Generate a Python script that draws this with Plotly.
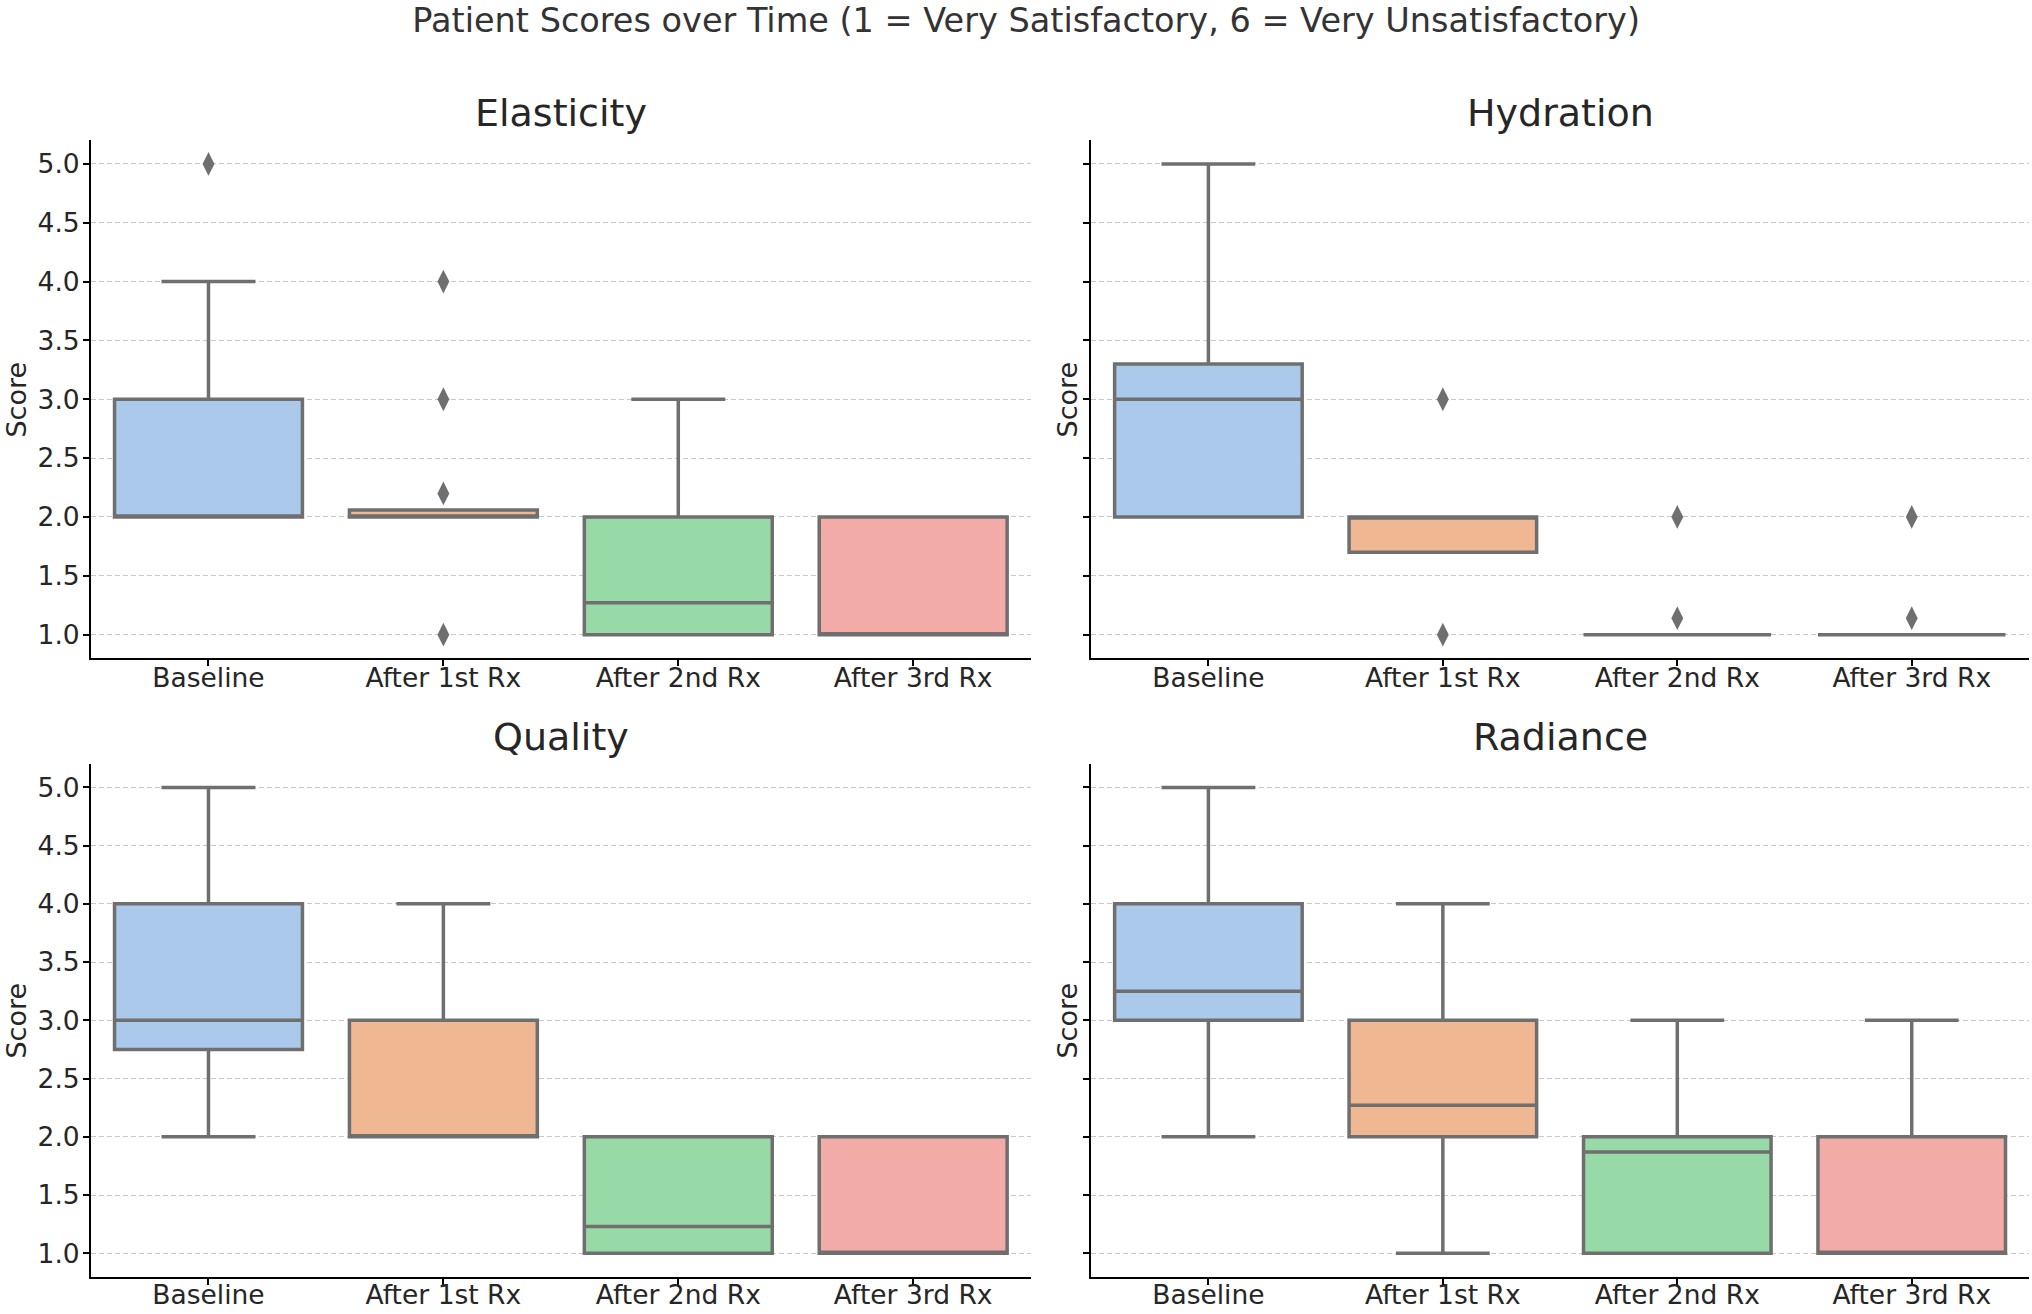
"""Box plots of patient scores for four skin metrics over the treatment course."""

import plotly.graph_objects as go

CATEGORIES = ["Baseline", "After 1st Rx", "After 2nd Rx", "After 3rd Rx"]
METRICS = ["Elasticity", "Hydration", "Quality", "Radiance"]
BOX_COLORS = ["#abc9ea", "#efb792", "#98daa7", "#f3aba8"]

# box statistics per metric: one value per category
elasticity_q1 = [2.0, 2.0, 1.0, 1.0]
elasticity_median = [2.0, 2.0, 1.27, 1.0]
elasticity_q3 = [3.0, 2.06, 2.0, 2.0]
elasticity_low = [2.0, 2.0, 1.0, 1.0]
elasticity_high = [4.0, 2.06, 3.0, 2.0]
elasticity_outlier_cat = ["Baseline", "After 1st Rx", "After 1st Rx", "After 1st Rx", "After 1st Rx"]
elasticity_outlier_val = [5.0, 4.0, 3.0, 2.2, 1.0]

hydration_q1 = [2.0, 1.7, 1.0, 1.0]
hydration_median = [3.0, 2.0, 1.0, 1.0]
hydration_q3 = [3.3, 2.0, 1.0, 1.0]
hydration_low = [2.0, 1.7, 1.0, 1.0]
hydration_high = [5.0, 2.0, 1.0, 1.0]
hydration_outlier_cat = ["After 1st Rx", "After 1st Rx", "After 2nd Rx", "After 2nd Rx",
                         "After 3rd Rx", "After 3rd Rx"]
hydration_outlier_val = [3.0, 1.0, 2.0, 1.14, 2.0, 1.14]

quality_q1 = [2.75, 2.0, 1.0, 1.0]
quality_median = [3.0, 2.0, 1.23, 1.0]
quality_q3 = [4.0, 3.0, 2.0, 2.0]
quality_low = [2.0, 2.0, 1.0, 1.0]
quality_high = [5.0, 4.0, 2.0, 2.0]
quality_outlier_cat = []
quality_outlier_val = []

radiance_q1 = [3.0, 2.0, 1.0, 1.0]
radiance_median = [3.25, 2.27, 1.87, 1.0]
radiance_q3 = [4.0, 3.0, 2.0, 2.0]
radiance_low = [2.0, 1.0, 1.0, 1.0]
radiance_high = [5.0, 4.0, 3.0, 3.0]
radiance_outlier_cat = []
radiance_outlier_val = []

Y_TICKS = [1.0, 1.5, 2.0, 2.5, 3.0, 3.5, 4.0, 4.5, 5.0]

stats = {
    "Elasticity": (elasticity_q1, elasticity_median, elasticity_q3, elasticity_low,
                   elasticity_high, elasticity_outlier_cat, elasticity_outlier_val),
    "Hydration": (hydration_q1, hydration_median, hydration_q3, hydration_low,
                  hydration_high, hydration_outlier_cat, hydration_outlier_val),
    "Quality": (quality_q1, quality_median, quality_q3, quality_low,
                quality_high, quality_outlier_cat, quality_outlier_val),
    "Radiance": (radiance_q1, radiance_median, radiance_q3, radiance_low,
                 radiance_high, radiance_outlier_cat, radiance_outlier_val),
}

FONT = "DejaVu Sans, Verdana, sans-serif"
TEXT = "#262626"
LINE = "#6f6f6f"

# panel domains, measured off the reference (bottom row nudged up a touch
# so its tick labels stay inside the page)
x_domains = [[0.0448, 0.5072], [0.537, 0.9985]]
y_domains = [[0.4991, 0.8932], [0.0285, 0.4185]]
x_label_standoff = [-11, -12]
# the right column has no tick labels, so its y label sits nearer the spine
score_offsets = [0.0368, 0.0118]

fig = go.Figure()

for i, metric in enumerate(METRICS):
    row, col = divmod(i, 2)
    n = i + 1
    xa = "x" if n == 1 else f"x{n}"
    ya = "y" if n == 1 else f"y{n}"
    q1, med, q3, low, high, out_cat, out_val = stats[metric]

    for j, cat in enumerate(CATEGORIES):
        fig.add_trace(go.Box(
            x=[cat], q1=[q1[j]], median=[med[j]], q3=[q3[j]],
            lowerfence=[low[j]], upperfence=[high[j]],
            width=0.8, whiskerwidth=0.5,
            fillcolor=BOX_COLORS[j],
            line=dict(color=LINE, width=3.5),
            boxpoints=False, showlegend=False,
            xaxis=xa, yaxis=ya,
        ))

    if out_val:
        fig.add_trace(go.Scatter(
            x=out_cat, y=out_val, mode="markers",
            marker=dict(symbol="diamond-tall", size=17, color=LINE,
                        line=dict(width=0)),
            showlegend=False, xaxis=xa, yaxis=ya,
        ))

    axis_common = dict(
        showline=True, linecolor="#000000", linewidth=2,
        ticks="outside", ticklen=6, tickwidth=1.5, tickcolor="#000000",
        zeroline=False, automargin=False,
        tickfont=dict(family=FONT, size=26.5, color=TEXT),
    )
    fig.layout[f"xaxis{n if n > 1 else ''}"] = dict(
        axis_common, domain=x_domains[col], anchor=ya,
        type="category", categoryorder="array", categoryarray=CATEGORIES,
        range=[-0.5, 3.5], showgrid=False, ticklabelstandoff=x_label_standoff[row],
    )
    fig.layout[f"yaxis{n if n > 1 else ''}"] = dict(
        axis_common, domain=y_domains[row], anchor=xa,
        range=[0.8, 5.2], tickvals=Y_TICKS, tickformat=".1f",
        showticklabels=(col == 0), ticklabelstandoff=-2,
        showgrid=True, gridcolor="#c8c8c8", gridwidth=1, griddash="5px,3px",
    )

    # subplot title and y label
    xc = sum(x_domains[col]) / 2
    fig.add_annotation(
        text=metric, xref="paper", yref="paper",
        x=xc, y=y_domains[row][1] + 0.0205, xanchor="center", yanchor="middle",
        showarrow=False, font=dict(family=FONT, size=38, color=TEXT),
    )
    fig.add_annotation(
        text="Score", xref="paper", yref="paper", textangle=-90,
        x=x_domains[col][0] - score_offsets[col], y=sum(y_domains[row]) / 2,
        xanchor="center", yanchor="middle",
        showarrow=False, font=dict(family=FONT, size=27, color=TEXT),
    )

fig.update_layout(
    width=2032, height=1314,
    margin=dict(l=0, r=0, t=0, b=0),
    paper_bgcolor="white", plot_bgcolor="white",
    boxmode="overlay",
    title=dict(
        text="Patient Scores over Time (1 = Very Satisfactory, 6 = Very Unsatisfactory)",
        x=0.505, xanchor="center", y=1 - 20 / 1314, yanchor="middle",
        font=dict(family=FONT, size=33.5, color="#333333"),
    ),
)

# drop the browser's default body margin so the figure sits at the page corner
fig.write_html("out.html", config={"displayModeBar": False},
               post_script="document.body.style.margin = '0';")
